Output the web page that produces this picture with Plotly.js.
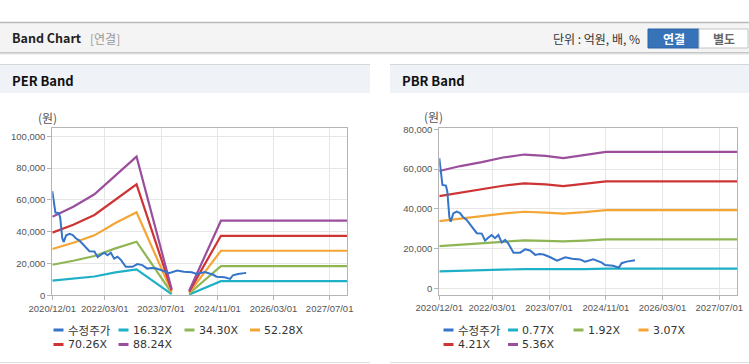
<!DOCTYPE html>
<html>
<head>
<meta charset="utf-8">
<script src="https://cdn.plot.ly/plotly-3.0.1.min.js"></script>
<style>
  html, body { margin: 0; padding: 0; background: #ffffff; }
  #chart { width: 749px; height: 364px; }
</style>
</head>
<body>
<div id="chart"></div>
<script>
// ---------------- DATA ----------------
const xTickVals = ['2020-12-01', '2022-03-01', '2023-07-01', '2024-11-01', '2026-03-01', '2027-07-01'];
const xTickText = ['2020/12/01', '2022/03/01', '2023/07/01', '2024/11/01', '2026/03/01', '2027/07/01'];

// adjusted share price (수정주가)
const priceDates = ['2020-12-01','2020-12-10','2020-12-28','2021-01-27','2021-02-08','2021-02-25','2021-03-09',
  '2021-03-31','2021-04-29','2021-05-28','2021-06-20','2021-07-24','2021-09-05','2021-10-19','2021-12-01',
  '2021-12-29','2022-01-27','2022-02-24','2022-03-24','2022-04-22','2022-05-21','2022-06-19','2022-07-18',
  '2022-08-30','2022-10-26','2022-12-08','2023-01-20','2023-03-04','2023-04-10','2023-05-16','2023-07-12',
  '2023-09-08','2023-11-18','2024-01-15','2024-03-23','2024-05-05','2024-07-15','2024-09-26','2024-10-24',
  '2025-01-01','2025-02-19','2025-03-15','2025-04-27','2025-07-08'];
const priceVals = [65500,60500,52000,51700,48600,36000,33500,
  37700,38600,37800,36000,34400,31000,27700,27500,
  24000,25500,26800,25200,26800,23000,24300,22300,
  17900,17900,19600,19000,16800,17200,17000,15600,
  13900,15600,14800,14500,13400,14600,12900,11700,
  11300,10300,12600,13400,14100];

// PER band
const perLabels = ['16.32X', '34.30X', '52.28X', '70.26X', '88.24X'];
const perDates = ['2020-12-01','2021-06-01','2021-12-01','2022-06-01','2022-12-01','2023-10-01',
  '2024-01-01','2024-03-01','2024-12-01','2027-12-01'];
const per1632 = [9200, 10300, 11800, 14400, 16300, 700, null, 550, 8900, 8900];
const per3430 = [19200, 21700, 24700, 29500, 33700, 1500, null, 1150, 18300, 18300];
const per5228 = [29100, 33000, 37700, 45500, 52200, 2300, null, 1700, 28000, 28000];
const per7026 = [39400, 44300, 50500, 60200, 69800, 3100, null, 2300, 37400, 37400];
const per8824 = [49400, 55700, 63500, 75600, 87200, 3900, null, 2900, 46900, 46900];

// PBR band
const pbrLabels = ['0.77X', '1.92X', '3.07X', '4.21X', '5.36X'];
const pbrDates = ['2020-12-01','2021-06-01','2021-12-01','2022-06-01','2022-12-01','2023-06-01',
  '2023-11-01','2024-05-01','2024-11-01','2027-12-01'];
const pbr077 = [8500, 8800, 9100, 9400, 9650, 9600, 9500, 9650, 9900, 9900];
const pbr192 = [21200, 21900, 22600, 23400, 24100, 23800, 23600, 24000, 24600, 24600];
const pbr307 = [33800, 35200, 36300, 37600, 38500, 38100, 37600, 38300, 39300, 39300];
const pbr421 = [46400, 48200, 49800, 51600, 52800, 52300, 51400, 52600, 53800, 53800];
const pbr536 = [59000, 61500, 63500, 65800, 67300, 66600, 65500, 67000, 68600, 68600];

const priceLabel = '수정주가';
const colors = ['#3574c8', '#1eb0c6', '#8fb554', '#f5a535', '#cf3434', '#9a4f9d'];

// ---------------- LAYOUT HELPERS ----------------
const W = 749, H = 364;
const X = p => p / W;
const Y = p => 1 - p / H;
const KR = 'Noto Sans CJK KR, Noto Sans, sans-serif';
const TICKF = {family: 'Liberation Sans, Arial, sans-serif', size: 9.5, color: '#555'};

const perBands = [per1632, per3430, per5228, per7026, per8824];
const pbrBands = [pbr077, pbr192, pbr307, pbr421, pbr536];

const traces = [];
perBands.forEach((v, i) => traces.push({
  type: 'scatter', mode: 'lines', x: perDates, y: v, name: perLabels[i],
  xaxis: 'x', yaxis: 'y', connectgaps: false, showlegend: false,
  line: {color: colors[i + 1], width: 2.2}
}));
traces.push({type: 'scatter', mode: 'lines', x: priceDates, y: priceVals, name: priceLabel,
  xaxis: 'x', yaxis: 'y', showlegend: false, line: {color: colors[0], width: 2}});
pbrBands.forEach((v, i) => traces.push({
  type: 'scatter', mode: 'lines', x: pbrDates, y: v, name: pbrLabels[i],
  xaxis: 'x2', yaxis: 'y2', showlegend: false,
  line: {color: colors[i + 1], width: 2.2}
}));
traces.push({type: 'scatter', mode: 'lines', x: priceDates, y: priceVals, name: priceLabel,
  xaxis: 'x2', yaxis: 'y2', showlegend: false, line: {color: colors[0], width: 2}});

function xAxis(l, r, anchor) {
  return {
    type: 'date', domain: [X(l), X(r)], anchor: anchor,
    range: ['2020-12-01', '2027-12-01'],
    tickmode: 'array', tickvals: xTickVals, ticktext: xTickText,
    showgrid: true, gridcolor: '#e6e6e6', gridwidth: 1,
    showline: true, mirror: true, linecolor: '#b5b5b5', linewidth: 1,
    ticks: 'outside', ticklen: 4, tickcolor: '#b5b5b5',
    tickfont: TICKF, zeroline: false, fixedrange: true
  };
}
function yAxis(top, bottom, range, tickvals, anchor) {
  return {
    domain: [Y(bottom), Y(top)], anchor: anchor, range: range,
    tickmode: 'array', tickvals: tickvals, tickformat: ',d',
    showgrid: true, gridcolor: '#e6e6e6', gridwidth: 1,
    showline: true, mirror: true, linecolor: '#b5b5b5', linewidth: 1,
    ticks: 'outside', ticklen: 4, tickcolor: '#b5b5b5',
    tickfont: TICKF, zeroline: false, fixedrange: true
  };
}

const shapes = [];
const annotations = [];
function rect(x0, y0, x1, y1, fill, line) {
  shapes.push({type: 'rect', xref: 'paper', yref: 'paper', x0: X(x0), x1: X(x1), y0: Y(y1), y1: Y(y0),
    fillcolor: fill, line: line || {width: 0}, layer: 'below'});
}
function hline(x0, x1, y, color, w) {
  shapes.push({type: 'line', xref: 'paper', yref: 'paper', x0: X(x0), x1: X(x1), y0: Y(y), y1: Y(y),
    line: {color: color, width: w || 1}, layer: 'below'});
}
function text(t, x, y, opts) {
  annotations.push(Object.assign({xref: 'paper', yref: 'paper', x: X(x), y: Y(y), text: t, showarrow: false,
    xanchor: 'left', yanchor: 'middle', font: {family: KR, size: 12, color: '#333'}}, opts || {}));
}

// header bar
rect(0, 22, 749, 52, '#f4f4f4');
hline(0, 749, 22.5, '#b9b9b9', 1.5);
hline(0, 749, 52.5, '#c6c6c6', 1);
hline(0, 749, 53.5, '#dedede', 1);
hline(0, 749, 54.5, '#efefef', 1);
text('<b>Band Chart</b>', 10, 38, {font: {family: KR, size: 12.5, color: '#222'}});
text('[연결]', 88, 38.5, {font: {family: KR, size: 12, color: '#999'}});
text('단위 : 억원, 배, %', 642, 39, {xanchor: 'right', font: {family: KR, size: 12, color: '#333'}});
rect(648, 29, 699, 48, '#3673b9', {color: '#2c62a3', width: 1});
rect(699, 29, 748, 48, '#ffffff', {color: '#c4c4c4', width: 1});
text('<b>연결</b>', 673.5, 38.5, {xanchor: 'center', font: {family: KR, size: 12, color: '#ffffff'}});
text('<b>별도</b>', 723.5, 38.5, {xanchor: 'center', font: {family: KR, size: 12, color: '#666'}});

// panel headers
[[0, 370, 'PER Band'], [390, 749, 'PBR Band']].forEach(([a, b, t]) => {
  rect(a, 64, b, 93, '#eff2f7');
  hline(a, b, 64.5, '#d6d6d6', 1);
  hline(a, b, 362.5, '#dddddd', 1);
  text('<b>' + t + '</b>', a + 10, 80, {font: {family: KR, size: 13, color: '#111'}});
});

// unit labels
text('(원)', 47.5, 117.5, {xanchor: 'center', font: {family: KR, size: 12, color: '#555'}});
text('(원)', 434, 117, {xanchor: 'center', font: {family: KR, size: 12, color: '#555'}});

// manual legends
const LEGF = {family: 'DejaVu Sans, Verdana, ' + KR, size: 11, color: '#333'};
function legend(names, cols, rows, cols0) {
  names.forEach((n, i) => {
    const cx = cols[i % 4], ry = rows[Math.floor(i / 4)];
    shapes.push({type: 'line', xref: 'paper', yref: 'paper', x0: X(cx), x1: X(cx + 10), y0: Y(ry), y1: Y(ry),
      line: {color: cols0[i], width: 3}});
    text(n, cx + 12, ry, {font: n === priceLabel ? {family: KR, size: 11.5, color: '#333'} : LEGF});
  });
}
const legendColors = [colors[0], colors[1], colors[2], colors[3], colors[4], colors[5]];
legend([priceLabel].concat(perLabels), [53.5, 118.5, 184.5, 250], [330, 344.5], legendColors);
legend([priceLabel].concat(pbrLabels), [443.5, 508, 573.5, 638.5], [330, 344.5], legendColors);

const layout = {
  width: W, height: H, autosize: false,
  margin: {l: 0, r: 0, t: 0, b: 0, pad: 0},
  paper_bgcolor: '#ffffff', plot_bgcolor: '#ffffff',
  showlegend: false, hovermode: false,
  xaxis: xAxis(52.3, 347.3, 'y'),
  yaxis: yAxis(128.3, 295.3, [0, 105000], [0, 20000, 40000, 60000, 80000, 100000], 'x'),
  xaxis2: xAxis(439.3, 737, 'y2'),
  yaxis2: yAxis(128.3, 295, [-3400, 80500], [0, 20000, 40000, 60000, 80000], 'x2'),
  shapes: shapes,
  annotations: annotations
};

Plotly.newPlot('chart', traces, layout, {staticPlot: true, displayModeBar: false});
</script>
</body>
</html>
